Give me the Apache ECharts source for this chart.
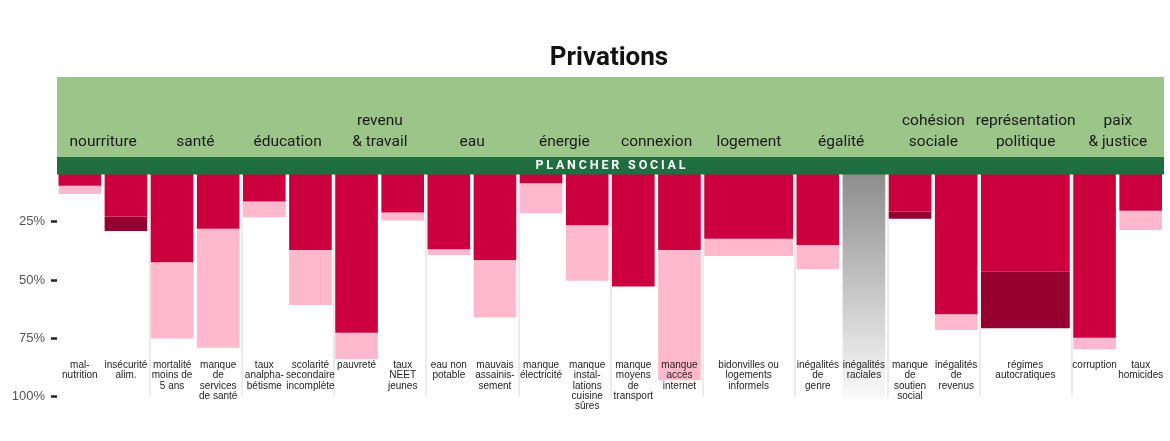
<!DOCTYPE html>
<html lang="fr">
<head>
<meta charset="UTF-8">
<title>Privations</title>
<script src="https://cdn.jsdelivr.net/npm/echarts@6/dist/echarts.min.js"></script>
<style>
    html, body { margin: 0; padding: 0; background: #fff; }
    #chart { width: 1170px; height: 441px; }
</style>
</head>
<body>
<div id="chart"></div>
<script>
    // domaines du bandeau vert
    var domaines = ['nourriture', 'santé', 'éducation', 'revenu\n& travail', 'eau', 'énergie',
        'connexion', 'logement', 'égalité', 'cohésion\nsociale', 'représentation\npolitique', 'paix\n& justice'];

    // indicateurs (libellés du bas)
    var indicateurs = ['mal-\nnutrition', 'insécurité\nalim.', 'mortalité\nmoins de\n5 ans', 'manque\nde\nservices\nde santé',
        'taux\nanalpha-\nbétisme', 'scolarité\nsecondaire\nincomplète', 'pauvreté', 'taux\nNEET\njeunes',
        'eau non\npotable', 'mauvais\nassainis-\nsement', 'manque\nélectricité', 'manque\ninstal-\nlations\ncuisine\nsûres',
        'manque\nmoyens\nde\ntransport', 'manque\naccès\ninternet', 'bidonvilles ou\nlogements\ninformels',
        'inégalités\nde\ngenre', 'inégalités\nraciales', 'manque\nde\nsoutien\nsocial', 'inégalités\nde\nrevenus',
        'régimes\nautocratiques', 'corruption', 'taux\nhomicides'];

    // domaine de chaque indicateur
    var domaineIdx = [0, 0, 1, 1, 2, 2, 3, 3, 4, 4, 5, 5, 6, 6, 7, 8, 8, 9, 9, 10, 11, 11];

    // part rouge (%)
    var valeurBase = [9.6, 22.8, 42.4, 28, 16.3, 37.1, 72.6, 21, 36.8, 41.4, 8.5, 26.5,
        52.8, 37.1, 32.3, 35, null, 20.7, 64.7, 46.4, 74.7, 20.3];
    // extension (%)
    var valeurHaute = [13.1, 29, 75, 79, 23.1, 60.7, 84, 24.5, 39.3, 66, 21.4, 50.3,
        null, 93, 39.7, 45.4, null, 23.7, 71.4, 70.7, 79.7, 28.5];
    // type de l'extension : 'clair', 'fonce', 'nd' (pas de données)
    var typeHaute = ['clair', 'fonce', 'clair', 'clair', 'clair', 'clair', 'clair', 'clair', 'clair', 'clair', 'clair', 'clair',
        null, 'clair', 'clair', 'clair', 'nd', 'fonce', 'clair', 'fonce', 'clair', 'clair'];

    var graduations = [25, 50, 75, 100];

    var ROUGE = '#cc003f', ROSE = '#ffb8cd', FONCE = '#960030';
    var VERT_CLAIR = '#9cc689', VERT_FONCE = '#1f6e40';

    // chaque domaine occupe 2 cases, partagées entre ses indicateurs
    var donnees = [];
    for (var d = 0; d < domaines.length; d++) {
        var liste = [];
        domaineIdx.forEach(function (dd, i) { if (dd === d) liste.push(i); });
        var largeur = 2 / liste.length;
        liste.forEach(function (i, k) {
            donnees[i] = [2 * d + k * largeur, 2 * d + (k + 1) * largeur, valeurBase[i], valeurHaute[i]];
        });
    }

    function espacer(txt) {
        return txt.split('').join('\u2009\u200A');
    }

    function dessinerBarre(params, api) {
        var i = params.dataIndex;
        var x0 = api.value(0), x1 = api.value(1);
        var gauche = api.coord([x0, 0])[0] + 1.5;
        var droite = api.coord([x1, 0])[0] - 2;
        var haut = api.coord([x0, 0])[1];
        var bas = api.coord([x0, 100])[1];
        var base = valeurBase[i], sup = valeurHaute[i];
        var enfants = [];

        if (typeHaute[i] === 'nd') {
            enfants.push({
                type: 'rect',
                shape: { x: gauche, y: haut, width: droite - gauche, height: bas + 2 - haut },
                style: {
                    fill: new echarts.graphic.LinearGradient(0, 0, 0, 1, [
                        { offset: 0, color: '#888888' },
                        { offset: 0.85, color: '#eaeaea' },
                        { offset: 1, color: '#fafafa' }
                    ])
                }
            });
        }
        if (sup != null && base != null) {
            var yb = api.coord([x0, base])[1];
            var ys = api.coord([x0, sup])[1];
            enfants.push({
                type: 'rect',
                shape: { x: gauche, y: yb, width: droite - gauche, height: ys - yb },
                style: { fill: typeHaute[i] === 'fonce' ? FONCE : ROSE }
            });
        }
        if (base != null) {
            var yr = api.coord([x0, base])[1];
            enfants.push({
                type: 'rect',
                shape: { x: gauche, y: haut, width: droite - gauche, height: yr - haut },
                style: { fill: ROUGE }
            });
        }
        enfants.push({
            type: 'text',
            style: {
                text: indicateurs[i],
                x: (gauche + droite) / 2,
                y: bas - 36.5,
                align: 'center',
                verticalAlign: 'top',
                fill: '#1e1e1e',
                fontSize: 10,
                fontFamily: '"Liberation Sans", Arial, sans-serif',
                lineHeight: 10.3
            }
        });
        return { type: 'group', children: enfants };
    }

    var myChart = echarts.init(document.getElementById('chart'));

    var option = {
        backgroundColor: '#fff',
        animation: false,
        title: {
            text: 'Privations',
            left: 604,
            top: 40,
            textAlign: 'center',
            textStyle: { fontFamily: 'Roboto', fontWeight: 'bold', fontSize: 26, color: '#111' }
        },
        grid: { left: 57, right: 6, top: 163.4, bottom: 44.3 },
        xAxis: [
            {
                type: 'value',
                min: 0,
                max: 24,
                interval: 2,
                axisLine: { show: false },
                axisTick: { show: false },
                axisLabel: { show: false },
                splitLine: {
                    show: true,
                    showMinLine: false,
                    showMaxLine: false,
                    lineStyle: { color: '#ebebeb', width: 2 }
                }
            },
            {
                type: 'category',
                position: 'top',
                data: domaines,
                z: 20,
                axisLine: { show: false },
                axisTick: { show: false },
                splitLine: { show: false },
                axisLabel: {
                    interval: 0,
                    color: '#1a1a1a',
                    fontFamily: 'Roboto',
                    fontSize: 15.5,
                    lineHeight: 21,
                    margin: 11
                }
            }
        ],
        yAxis: {
            type: 'value',
            inverse: true,
            min: 0,
            max: 100,
            interval: 25,
            axisLine: { show: false },
            splitLine: { show: false },
            axisTick: {
                show: true,
                customValues: graduations,
                length: 6,
                lineStyle: { color: '#222', width: 2.5 }
            },
            axisLabel: {
                customValues: graduations,
                formatter: '{value}%',
                color: '#555',
                fontSize: 13,
                fontFamily: '"Liberation Sans", Arial, sans-serif',
                margin: 12
            }
        },
        graphic: [
            {
                type: 'rect',
                z: 1,
                shape: { x: 57, y: 77, width: 1107, height: 80.5 },
                style: { fill: VERT_CLAIR }
            },
            {
                type: 'rect',
                z: 10,
                shape: { x: 57, y: 157, width: 1107, height: 17.5 },
                style: { fill: VERT_FONCE }
            },
            {
                type: 'text',
                z: 11,
                style: {
                    text: espacer('PLANCHER') + '\u2009\u200A \u2009\u200A' + espacer('SOCIAL'),
                    x: 610.5,
                    y: 166,
                    align: 'center',
                    verticalAlign: 'middle',
                    fill: '#fff',
                    fontFamily: 'Roboto',
                    fontWeight: 'bold',
                    fontSize: 12.5
                }
            }
        ],
        series: [
            {
                type: 'custom',
                name: 'Privations',
                xAxisIndex: 0,
                yAxisIndex: 0,
                z: 2,
                clip: false,
                renderItem: dessinerBarre,
                data: donnees
            }
        ]
    };

    myChart.setOption(option);
</script>
</body>
</html>
